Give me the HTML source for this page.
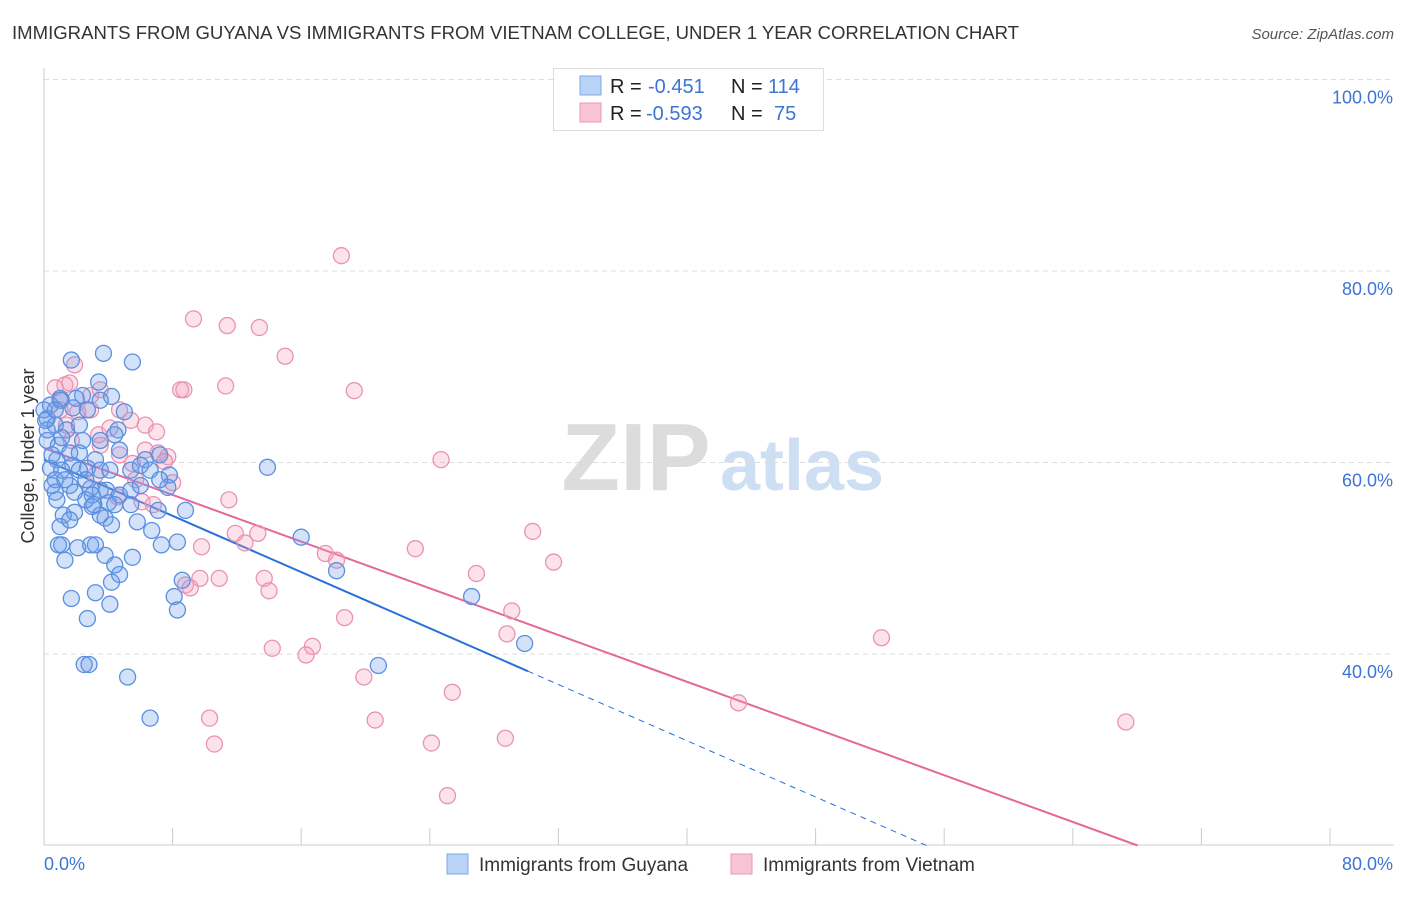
<!DOCTYPE html>
<html><head><meta charset="utf-8"><style>
body{margin:0;background:#fff;font-family:"Liberation Sans",sans-serif;}
svg text{font-family:"Liberation Sans",sans-serif;}
</style></head><body>
<svg id="chart" width="1406" height="892" xmlns="http://www.w3.org/2000/svg">
<text x="12" y="39" font-size="18" fill="#333" textLength="1007" lengthAdjust="spacingAndGlyphs">IMMIGRANTS FROM GUYANA VS IMMIGRANTS FROM VIETNAM COLLEGE, UNDER 1 YEAR CORRELATION CHART</text>
<text x="1394" y="39" font-size="15" fill="#555" text-anchor="end" font-style="italic">Source: ZipAtlas.com</text>
<g>
<text x="636" y="490" font-size="96" fill="#dcdcdc" text-anchor="middle" font-family="Liberation Serif, serif" font-weight="bold">ZIP</text>
<text x="802" y="490" font-size="72" fill="#cfdff3" text-anchor="middle" font-weight="bold">atlas</text>
</g>
<g id="grid"></g>
<g id="axes"></g>
<g id="lines"></g>
<g id="pts"></g>
<g>
<rect x="553.5" y="68.5" width="270" height="62" fill="#fff" stroke="#ddd"/>
<rect x="580" y="76" width="21" height="19" fill="#b8d3f5" stroke="#7fa9e8"/>
<rect x="580" y="103" width="21" height="19" fill="#f8c4d4" stroke="#eb97b3"/>
<text x="610" y="93" font-size="20" fill="#222">R = </text><text x="648" y="93" font-size="20" fill="#3d74d6">-0.451</text>
<text x="731" y="93" font-size="20" fill="#222">N = </text><text x="768" y="93" font-size="20" fill="#3d74d6">114</text>
<text x="610" y="120" font-size="20" fill="#222">R = </text><text x="646" y="120" font-size="20" fill="#3d74d6">-0.593</text>
<text x="731" y="120" font-size="20" fill="#222">N = </text><text x="774" y="120" font-size="20" fill="#3d74d6">75</text>
</g>
<g>
<rect x="447" y="854" width="21" height="20" fill="#b8d3f5" stroke="#7fa9e8"/>
<text x="479" y="871" font-size="19" fill="#333">Immigrants from Guyana</text>
<rect x="731" y="854" width="21" height="20" fill="#f8c4d4" stroke="#eb97b3"/>
<text x="763" y="871" font-size="19" fill="#333">Immigrants from Vietnam</text>
</g>
<text transform="translate(34,456) rotate(-90)" font-size="18" fill="#333" text-anchor="middle">College, Under 1 year</text>
</svg>
<script>
const yTicks=[100,80,60,40];
const yTickLabels=["100.0%","80.0%","60.0%","40.0%"];
const xTickVals=[0,8,16,24,32,40,48,56,64,72,80];
const blueX=[1.7,3.7,5.5,3.4,2.4,4.2,5.0,1.0,1.8,2.7,0.4,0.2,0.7,2.2,4.6,0.2,0.9,2.4,0.8,1.6,1.8,3.2,2.7,0.4,1.1,2.2,0.7,1.6,2.9,3.5,3.0,3.9,4.7,1.9,0.7,4.0,5.4,3.0,1.2,1.9,3.8,4.2,5.8,1.0,6.7,1.1,2.1,2.9,3.8,4.4,5.5,7.3,8.3,4.2,1.7,3.2,4.1,2.7,8.6,8.1,8.3,2.5,2.8,5.2,6.6,6.3,7.2,7.8,7.7,8.8,7.1,13.9,16.0,18.2,20.8,26.6,29.9,5.4,4.7,6.0,1.3,2.6,3.5,0.2,0.5,1.4,2.0,3.5,4.4,1.0,0.0,0.1,0.7,3.5,1.3,4.7,6.6,5.4,4.1,2.6,1.6,3.2,0.5,0.8,1.1,2.2,3.1,4.4,6.0,7.2,3.5,0.9];
const blueY=[70.7,71.4,70.5,68.4,67.0,66.9,65.3,66.7,65.7,65.5,66.0,64.6,63.9,63.9,63.4,62.3,61.8,62.3,60.3,61.0,59.7,60.3,59.4,59.4,59.2,59.2,58.2,57.6,57.3,57.1,56.6,57.1,56.6,56.9,56.9,55.8,55.6,55.4,54.5,54.8,54.2,53.5,53.8,53.3,52.9,51.4,51.1,51.4,50.3,49.3,50.1,51.4,51.7,47.5,45.8,46.4,45.2,43.7,47.7,46.0,44.6,38.9,38.9,37.6,33.3,60.3,60.8,58.7,57.4,55.0,55.0,59.5,52.2,48.7,38.8,46.0,41.1,59.2,61.3,59.7,58.2,58.2,59.2,63.4,60.8,63.4,66.7,66.5,62.9,66.5,65.5,64.4,65.5,54.5,49.8,48.3,59.2,57.1,59.2,56.1,54.0,51.4,57.6,56.1,62.6,61.0,55.6,55.6,57.6,58.2,62.3,51.4];
const pinkX=[18.5,9.3,11.4,13.4,15.0,11.3,8.5,8.7,19.3,1.3,1.6,0.7,1.9,2.9,3.5,1.1,2.9,2.1,4.7,5.4,6.3,7.0,3.4,4.1,1.4,1.7,3.5,4.7,6.3,7.1,7.7,5.5,7.5,3.2,5.7,8.0,4.6,6.1,6.8,24.7,11.5,11.9,13.3,12.5,9.8,30.4,17.5,18.2,23.1,31.7,9.7,10.9,13.7,8.8,9.1,14.0,26.9,29.1,18.7,28.8,16.7,14.2,16.3,19.9,25.4,52.1,43.2,10.3,20.6,10.6,24.1,28.7,25.1,67.3,1.0];
const pinkY=[81.6,75.0,74.3,74.1,71.1,68.0,67.6,67.6,67.5,68.1,68.3,67.8,70.2,67.0,67.6,66.5,65.5,65.3,65.5,64.4,63.9,63.2,62.9,63.6,63.9,62.3,61.8,60.8,61.3,61.0,60.6,59.9,60.1,58.7,58.2,57.9,56.4,55.9,55.6,60.3,56.1,52.6,52.6,51.6,51.2,52.8,50.5,49.8,51.0,49.6,47.9,47.9,47.9,47.2,46.9,46.6,48.4,44.5,43.8,42.1,40.8,40.6,39.9,37.6,36.0,41.7,34.9,33.3,33.1,30.6,30.7,31.2,25.2,32.9,65.5];
const blueFit=[60.3,-0.734];
const pinkFit=[61.5,-0.61];
const NS="http://www.w3.org/2000/svg";
const X=v=>44+v/80*1286, Y=v=>79.5+(100-v)*9.575;
function mk(t,a,p){const e=document.createElementNS(NS,t);for(const k in a)e.setAttribute(k,a[k]);p.appendChild(e);return e;}
const grid=document.getElementById('grid'),axes=document.getElementById('axes');
yTicks.forEach((v,i)=>{
 const l=mk('line',{x1:44,x2:1394,y1:Y(v),y2:Y(v),stroke:'#ddd','stroke-dasharray':'5,4'},grid);
 
 
 const t=mk('text',{x:1393,y:Y(v)+24,'font-size':18,fill:'#3d74d6','text-anchor':'end'},axes);
 t.textContent=yTickLabels[i];
 
 
});
mk('line',{x1:44,x2:44,y1:68,y2:845,stroke:'#ccc'},axes);
mk('line',{x1:44,x2:1394,y1:845,y2:845,stroke:'#ccc'},axes);
xTickVals.forEach(v=>{const l=mk('line',{x1:X(v),x2:X(v),y1:828,y2:845,stroke:'#ccc'},axes);
 
 });
let t=mk('text',{x:44,y:870,'font-size':18,fill:'#3d74d6'},axes);t.textContent='0.0%';


t=mk('text',{x:1393,y:870,'font-size':18,fill:'#3d74d6','text-anchor':'end'},axes);t.textContent='80.0%';


const pts=document.getElementById('pts');
function dots(xs,ys,fill,stroke,name){xs.forEach((x,i)=>{const c=mk('circle',{cx:X(x),cy:Y(ys[i]),r:8,fill:fill,stroke:stroke,'stroke-width':1.3},pts);
 
 });}
dots(pinkX,pinkY,'rgba(244,160,190,0.3)','#e993b2','vietnam-point');
dots(blueX,blueY,'rgba(110,160,235,0.3)','#5b8fe0','guyana-point');
const lines=document.getElementById('lines');
const f=(fit,x)=>fit[0]+fit[1]*x;
let l=mk('line',{x1:X(0),y1:Y(f(blueFit,0)),x2:X(30.1),y2:Y(f(blueFit,30.1)),stroke:'#2a70d8','stroke-width':2},lines);


const xEnd=(20-blueFit[0])/blueFit[1];
l=mk('line',{x1:X(30.1),y1:Y(f(blueFit,30.1)),x2:X(xEnd),y2:Y(20),stroke:'#2a70d8','stroke-width':1,'stroke-dasharray':'6,5'},lines);


const pEnd=(20-pinkFit[0])/pinkFit[1];
l=mk('line',{x1:X(0),y1:Y(f(pinkFit,0)),x2:X(pEnd),y2:Y(20),stroke:'#e5689a','stroke-width':2},lines);


</script>
</body></html>
